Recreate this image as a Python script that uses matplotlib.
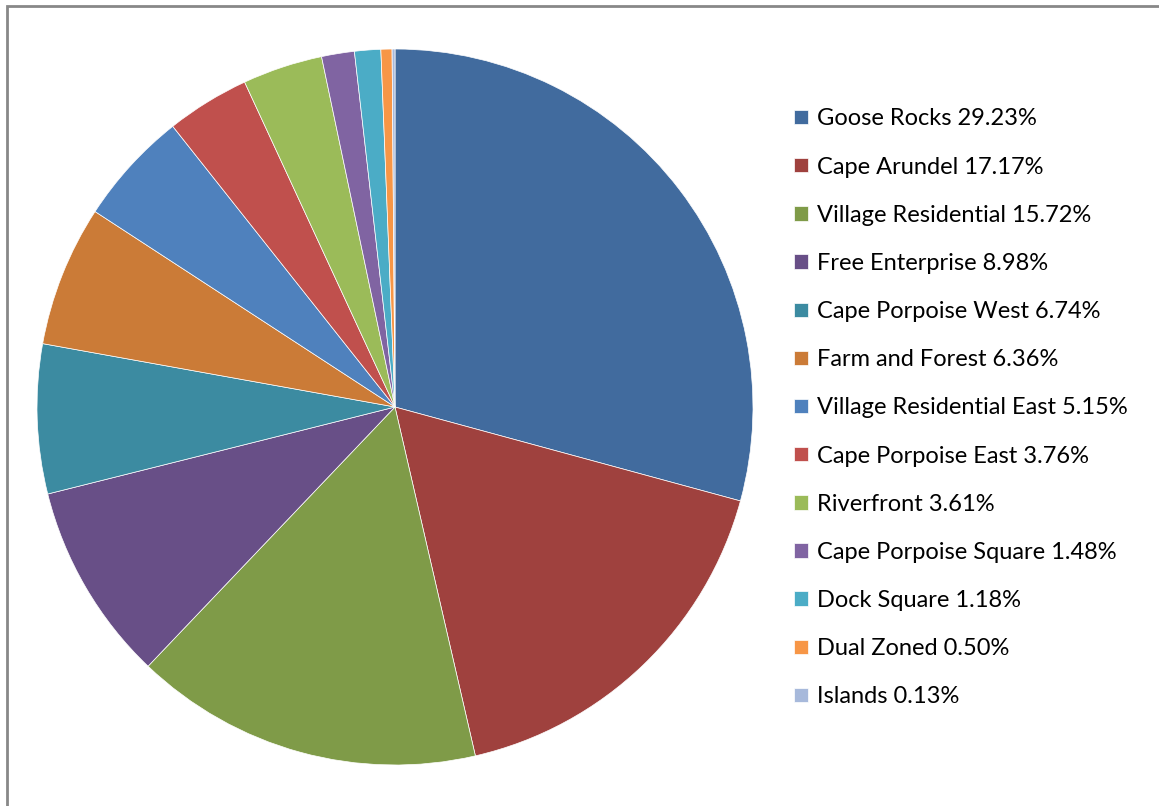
import matplotlib.pyplot as plt
from matplotlib.patches import Rectangle

zones = ['Goose Rocks', 'Cape Arundel', 'Village Residential', 'Free Enterprise',
         'Cape Porpoise West', 'Farm and Forest', 'Village Residential East',
         'Cape Porpoise East', 'Riverfront', 'Cape Porpoise Square',
         'Dock Square', 'Dual Zoned', 'Islands']
shares = [29.23, 17.17, 15.72, 8.98, 6.74, 6.36, 5.15, 3.76, 3.61, 1.48, 1.18, 0.50, 0.13]
colors = ['#416b9e', '#9f413e', '#7f9b48', '#684f87', '#3c8ba1', '#cb7b37',
          '#4f81bd', '#c0504d', '#9bbb59', '#8064a2', '#4bacc6', '#f79646', '#a7b9db']

W, H = 1159, 806
fig = plt.figure(figsize=(W / 100, H / 100), dpi=100)

# pie: centre (395, 407) px, radius ~358 px
cx, cy, r = 395, 407, 358
ax = fig.add_axes([(cx - r) / W, (H - cy - r) / H, 2 * r / W, 2 * r / H])
wedges, _ = ax.pie(shares, colors=colors, startangle=90, counterclock=False,
                   radius=1.0, wedgeprops=dict(edgecolor='white', linewidth=0.5))
ax.set_xlim(-1, 1)
ax.set_ylim(-1, 1)
ax.set_aspect('equal')
ax.axis('off')

labels = [f'{z} {s:.2f}%' for z, s in zip(zones, shares)]
fig.legend(wedges, labels, loc='upper left', bbox_to_anchor=(785 / W, 1 - 99 / H),
           frameon=False, prop={'family': 'Lato', 'size': 17},
           handlelength=0.56, handleheight=0.56, handletextpad=0.4,
           labelspacing=1.15, borderaxespad=0)

# gray chart border (runs off the right and bottom edge)
fig.add_artist(Rectangle((7 / W, -0.02), 1.1, 1 - 5 / H + 0.02 - 1 / H,
                         transform=fig.transFigure, fill=False,
                         edgecolor='#888888', linewidth=2))

fig.savefig('out.png', dpi=100)
